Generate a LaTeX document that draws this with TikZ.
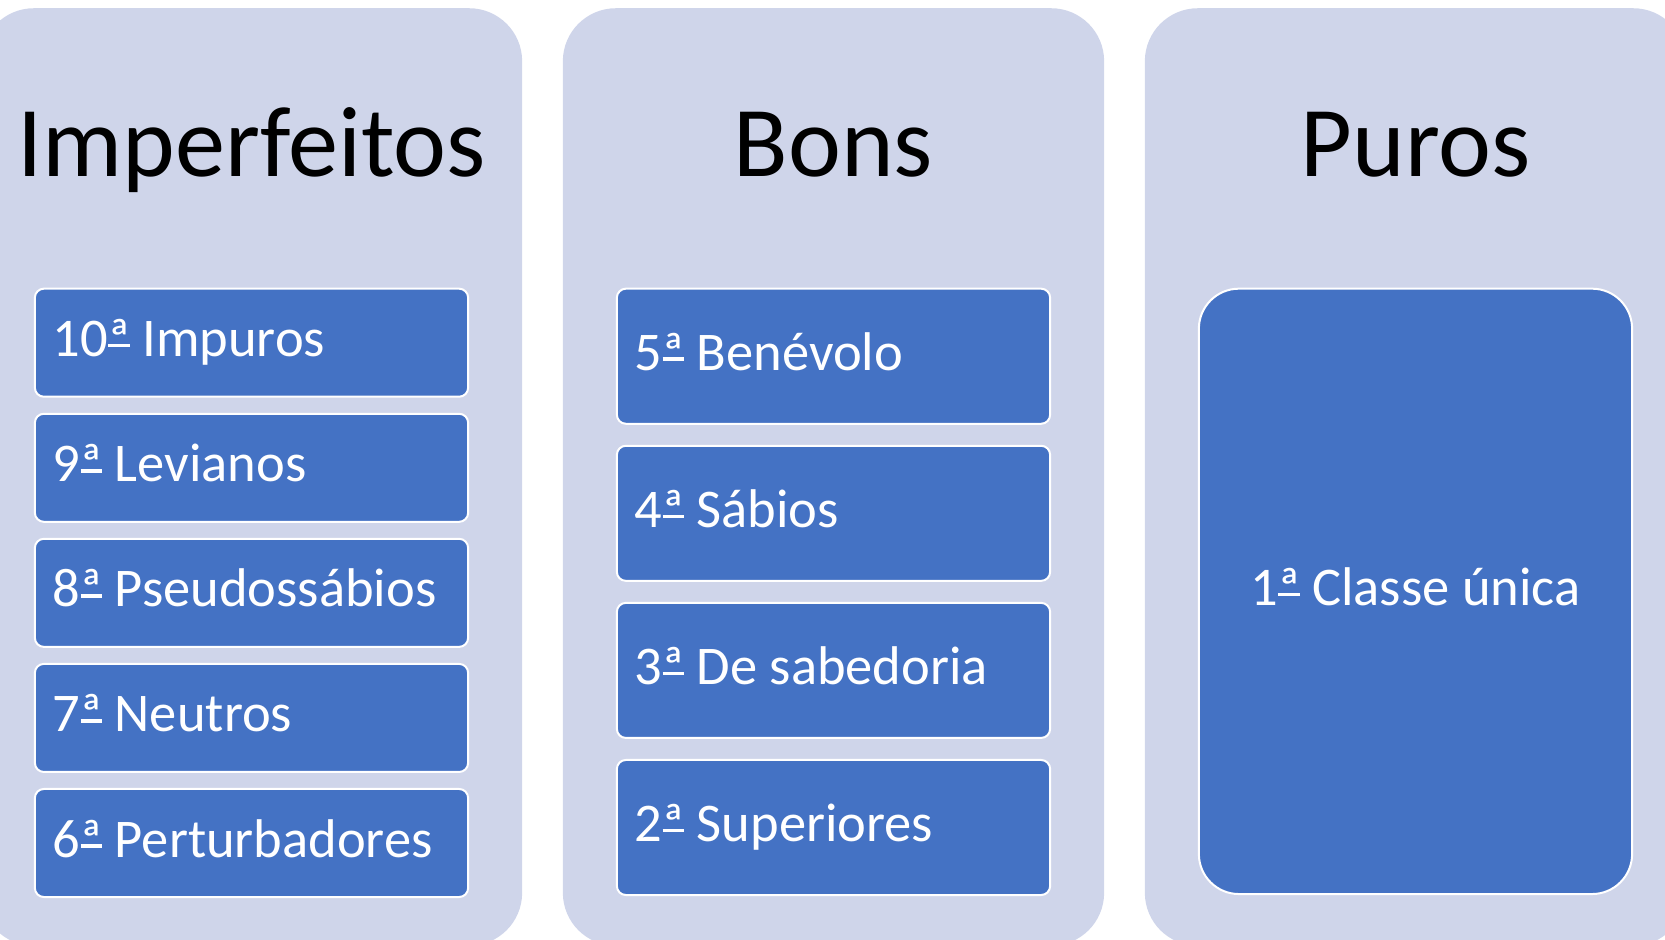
\documentclass[tikz,border=0pt]{standalone}
\usepackage{fontspec}
\setmainfont{Carlito}
\usetikzlibrary{positioning}

\definecolor{panelfill}{HTML}{CFD5EA}
\definecolor{boxblue}{HTML}{4472C4}
\newcommand{\headfont}{\fontsize{28.5pt}{34pt}\selectfont}
\newcommand{\boxfont}{\fontsize{15.5pt}{19pt}\selectfont}
% underlined ordinal, as the slide font draws it
\newcommand{\ordA}{\sbox0{ª}\rlap{\usebox0}\rule[0.17em]{\wd0}{0.065em}}
\newcommand{\oneline}[1]{\makebox[3.97cm][l]{#1}}

\begin{document}
\begin{tikzpicture}[x=0.01cm, y=-0.01cm,
    panel/.style={fill=panelfill, rounded corners=0.53cm, minimum width=5.41cm,
        minimum height=9.37cm, inner sep=0pt},
    heading/.style={anchor=base, font=\headfont, text=black},
    classbox/.style={draw=white, line width=0.2mm, fill=boxblue, rounded corners=0.09cm,
        minimum width=4.33cm, inner xsep=0.18cm, inner ysep=0pt,
        text height=0.40cm, text depth=0.12cm, font=\boxfont, text=white},
    imperfbox/.style={classbox, minimum height=1.08cm},
    bonsbox/.style={classbox, minimum height=1.35cm}]
    \useasboundingbox (0,0) rectangle (1665,940);
    \clip (0,0) rectangle (1665,940);

    % three columns
    \foreach \i/\name in {1/Imperfeitos, 2/Bons, 3/Puros} {
        \pgfmathsetmacro{\x}{251.5+582*(\i-1)}
        \node[panel] (p\i) at (\x,477) {};
        \node[heading] (h\i) at ([yshift=-1.685cm]p\i.north) {\name};
    }

    % imperfeitos
    \node[imperfbox, below=2.80cm of p1.north] (c10) {\oneline{10\ordA{} Impuros}};
    \node[imperfbox, below=0.15cm of c10] (c9) {\oneline{9\ordA{} Levianos}};
    \node[imperfbox, below=0.15cm of c9] (c8) {\oneline{8\ordA{} Pseudossábios}};
    \node[imperfbox, below=0.15cm of c8] (c7) {\oneline{7\ordA{} Neutros}};
    \node[imperfbox, below=0.15cm of c7] (c6) {\oneline{6\ordA{} Perturbadores}};

    % bons
    \node[bonsbox, below=2.80cm of p2.north] (c5) {\oneline{5\ordA{} Benévolo}};
    \node[bonsbox, below=0.20cm of c5] (c4) {\oneline{4\ordA{} Sábios}};
    \node[bonsbox, below=0.20cm of c4] (c3) {\oneline{3\ordA{} De sabedoria}};
    \node[bonsbox, below=0.20cm of c3] (c2) {\oneline{2\ordA{} Superiores}};

    % puros
    \node[classbox, minimum height=6.05cm, rounded corners=0.40cm,
        below=2.80cm of p3.north] (c1) {1\ordA{} Classe única};
\end{tikzpicture}
\end{document}
